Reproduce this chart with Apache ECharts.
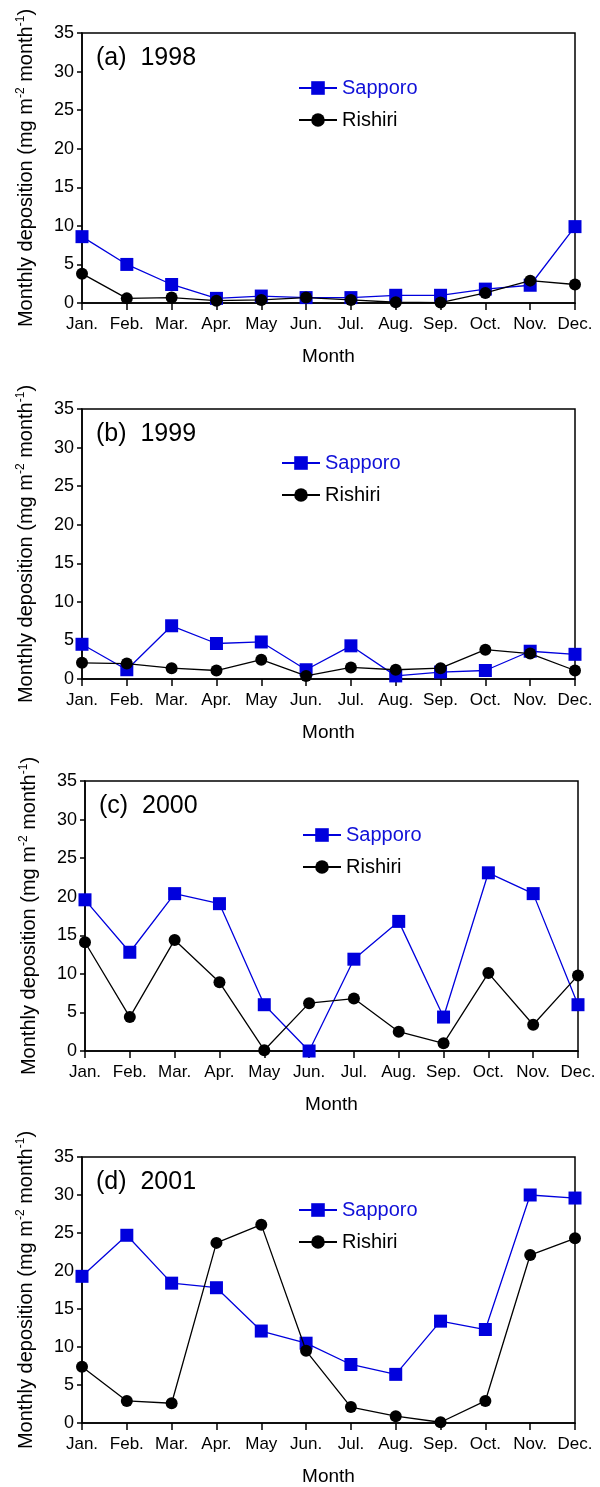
<!DOCTYPE html>
<html>
<head>
<meta charset="utf-8">
<script src="https://cdn.jsdelivr.net/npm/echarts@6/dist/echarts.min.js"></script>
<style>
  html, body { margin: 0; padding: 0; background: #fff; }
  #chart { width: 600px; height: 1487px; }
</style>
</head>
<body>
<div id="chart"></div>
<script>
const months = ["Jan.", "Feb.", "Mar.", "Apr.", "May", "Jun.", "Jul.", "Aug.", "Sep.", "Oct.", "Nov.", "Dec."];
const yTicks = [0, 5, 10, 15, 20, 25, 30, 35];
const panelLabels = ["(a)  1998", "(b)  1999", "(c)  2000", "(d)  2001"];

const sapporo1998 = [8.6, 5.0, 2.4, 0.6, 0.9, 0.7, 0.7, 1.0, 1.0, 1.8, 2.3, 9.9];
const rishiri1998 = [3.8, 0.6, 0.7, 0.3, 0.4, 0.7, 0.4, 0.1, 0.05, 1.3, 2.9, 2.4];

const sapporo1999 = [4.5, 1.2, 6.9, 4.6, 4.8, 1.2, 4.3, 0.4, 0.9, 1.1, 3.6, 3.2];
const rishiri1999 = [2.1, 2.0, 1.4, 1.1, 2.5, 0.4, 1.5, 1.2, 1.4, 3.8, 3.3, 1.1];

const sapporo2000 = [19.6, 12.8, 20.4, 19.1, 6.0, 0.0, 11.9, 16.8, 4.4, 23.1, 20.4, 6.0];
const rishiri2000 = [14.1, 4.4, 14.4, 8.9, 0.1, 6.2, 6.8, 2.5, 1.0, 10.1, 3.4, 9.8];

const sapporo2001 = [19.3, 24.7, 18.4, 17.8, 12.1, 10.5, 7.7, 6.4, 13.4, 12.3, 30.0, 29.6];
const rishiri2001 = [7.4, 2.9, 2.6, 23.7, 26.1, 9.5, 2.1, 0.9, 0.1, 2.9, 22.1, 24.3];

const sapporoData = [sapporo1998, sapporo1999, sapporo2000, sapporo2001];
const rishiriData = [rishiri1998, rishiri1999, rishiri2000, rishiri2001];

// panel geometry (pixels)
const panels = [
  { top: 33, height: 270, left: 82, right: 25, legendLeft: 293, legendTop: 73 },
  { top: 409, height: 270, left: 82, right: 25, legendLeft: 276, legendTop: 448 },
  { top: 781, height: 270, left: 85, right: 22, legendLeft: 297, legendTop: 820 },
  { top: 1157, height: 268, left: 82, right: 25, legendLeft: 293, legendTop: 1195 },
];

const FONT = "Liberation Sans, Arial, sans-serif";
const BLUE = "#0000dd";

const grid = [], xAxis = [], yAxis = [], series = [], legend = [], title = [];

panels.forEach((p, i) => {
  grid.push({
    left: p.left, right: p.right, top: p.top, height: p.height,
    show: true, borderColor: "#000", borderWidth: 1.5, containLabel: false,
  });
  title.push({
    text: panelLabels[i],
    left: p.left + 9, top: p.top + 8,
    textStyle: { fontFamily: FONT, fontSize: 25, fontWeight: "normal", color: "#000" },
  });
  xAxis.push({
    gridIndex: i,
    type: "category",
    data: months,
    boundaryGap: false,
    name: "Month",
    nameLocation: "middle",
    nameGap: 44,
    nameTextStyle: { fontFamily: FONT, fontSize: 19, color: "#000" },
    axisLine: { lineStyle: { color: "#000", width: 1.5 } },
    axisTick: { show: true, length: 7, lineStyle: { color: "#000", width: 1.5 } },
    axisLabel: { fontFamily: FONT, fontSize: 17, color: "#000", margin: 13, interval: 0 },
    splitLine: { show: false },
  });
  yAxis.push({
    gridIndex: i,
    type: "value",
    min: yTicks[0],
    max: yTicks[yTicks.length - 1],
    interval: 5,
    name: "Monthly deposition (mg m{sup|-2} month{sup|-1})",
    nameLocation: "middle",
    nameRotate: 90,
    nameGap: 45,
    nameTextStyle: {
      fontFamily: FONT, fontSize: 20, color: "#000", lineHeight: 22,
      rich: { sup: { fontFamily: FONT, fontSize: 12, color: "#000", verticalAlign: "top", lineHeight: 22, padding: [0, 0, 10, 0] } },
    },
    axisLine: { show: true, lineStyle: { color: "#000", width: 1.5 } },
    axisTick: { show: true, length: 5, lineStyle: { color: "#000", width: 1.5 } },
    axisLabel: { fontFamily: FONT, fontSize: 18, color: "#000", margin: 8 },
    splitLine: { show: false },
  });
  series.push({
    name: "Sapporo",
    type: "line",
    xAxisIndex: i, yAxisIndex: i,
    data: sapporoData[i],
    symbol: "rect",
    symbolSize: 13,
    lineStyle: { color: BLUE, width: 1.3 },
    itemStyle: { color: BLUE },
    z: 3,
  });
  series.push({
    name: "Rishiri",
    type: "line",
    xAxisIndex: i, yAxisIndex: i,
    data: rishiriData[i],
    symbol: "circle",
    symbolSize: 12,
    lineStyle: { color: "#000", width: 1.3 },
    itemStyle: { color: "#000" },
    z: 4,
  });
  legend.push({
    orient: "vertical",
    left: p.legendLeft,
    top: p.legendTop,
    itemWidth: 38,
    itemHeight: 17,
    itemGap: 12,
    selectedMode: false,
    data: [
      { name: "Sapporo", textStyle: { color: "#1010d8" } },
      { name: "Rishiri", textStyle: { color: "#000" } },
    ],
    textStyle: { fontFamily: FONT, fontSize: 20, color: "#000", lineHeight: 20 },
  });
});

const myChart = echarts.init(document.getElementById("chart"), null, { renderer: "canvas" });
myChart.setOption({
  animation: false,
  backgroundColor: "#fff",
  title,
  grid,
  xAxis,
  yAxis,
  legend,
  series,
});
</script>
</body>
</html>
